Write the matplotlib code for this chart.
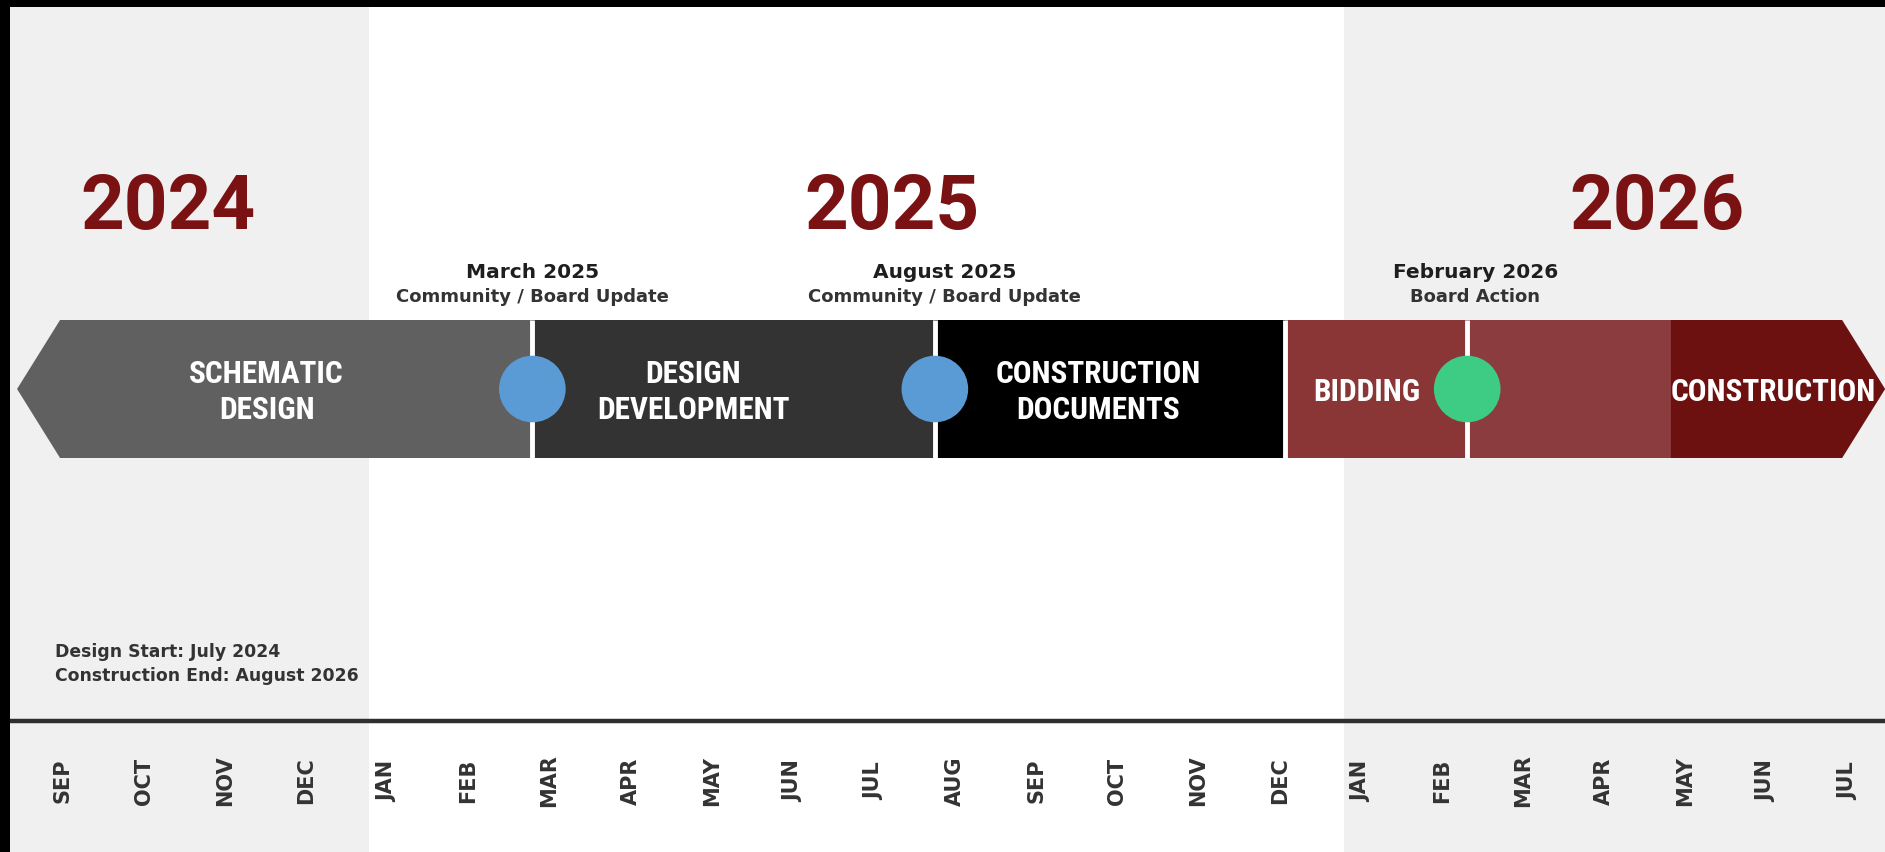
import matplotlib
matplotlib.use("Agg")
import matplotlib.pyplot as plt
from matplotlib.patches import Polygon, Rectangle
from matplotlib import font_manager as fm

# ---------------- data ----------------
months = ["SEP", "OCT", "NOV", "DEC", "JAN", "FEB", "MAR", "APR", "MAY", "JUN", "JUL",
          "AUG", "SEP", "OCT", "NOV", "DEC", "JAN", "FEB", "MAR", "APR", "MAY", "JUN", "JUL"]
years = ["2024", "2025", "2026"]
year_start = [-0.7, 3.78, 15.79]
year_end = [3.78, 15.79, 22.5]

phase_names = ["SCHEMATIC\nDESIGN", "DESIGN\nDEVELOPMENT", "CONSTRUCTION\nDOCUMENTS",
               "BIDDING", "", "CONSTRUCTION"]
phase_start = [-0.56, 5.79, 10.75, 15.07, 17.31, 19.82]
phase_end = [5.79, 10.75, 15.07, 17.31, 19.82, 22.46]

milestone_pos = [5.79, 10.75, 17.31]
milestone_title = ["March 2025", "August 2025", "February 2026"]
milestone_sub = ["Community / Board Update", "Community / Board Update", "Board Action"]

notes = ["Design Start: July 2024", "Construction End: August 2026"]

# ---------------- styles ----------------
phase_colors = ["#606060", "#333333", "#000000", "#8a3536", "#8b3c3e", "#6c1010"]
milestone_colors = ["#5b9bd5", "#5b9bd5", "#3ecb84"]
year_color = "#7a1214"
gray_bg = "#f0f0f0"

names = {f.name for f in fm.fontManager.ttflist}
stretch = "normal"
cond = "DejaVu Sans"
for cand in ["Roboto Condensed", "Liberation Sans Narrow", "Open Sans Condensed"]:
    if cand in names:
        cond = cand
        break
else:
    stretch = "condensed"
year_font = "Roboto" if "Roboto" in names else "DejaVu Sans"
wide = "DejaVu Sans"

W, H = 1885, 852
fig = plt.figure(figsize=(W / 100, H / 100), dpi=100, facecolor="black")
left_px, top_px = 10, 7
ax = fig.add_axes([left_px / W, 0, (W - left_px) / W, (H - top_px) / H])
px0, step = 62.5, 81.15
ax.set_xlim((left_px - px0) / step, (W - px0) / step)
ax.set_ylim(H, top_px)
ax.axis("off")
x0, x1 = ax.get_xlim()
ax.add_patch(Rectangle((x0, top_px), x1 - x0, H - top_px, color="white", zorder=0))

# year backgrounds
for i, (s, e) in enumerate(zip(year_start, year_end)):
    if i != 1:
        ax.axvspan(s, e, color=gray_bg, zorder=0.5, lw=0)

# year labels
year_label_x = [1.30, 10.22, 19.65]
for yx, yl in zip(year_label_x, years):
    ax.text(yx, 208, yl, ha="center", va="center", fontsize=55, fontweight="bold",
            color=year_color, family=year_font)

# arrow segments
top, bot = 320, 458
mid = (top + bot) / 2
head = 0.53
n = len(phase_names)
for i in range(n):
    s, e = phase_start[i], phase_end[i]
    if i == 0:
        pts = [(s, mid), (s + head, top), (e, top), (e, bot), (s + head, bot)]
    elif i == n - 1:
        pts = [(s, top), (e - head, top), (e, mid), (e - head, bot), (s, bot)]
    else:
        pts = [(s, top), (e, top), (e, bot), (s, bot)]
    ax.add_patch(Polygon(pts, closed=True, color=phase_colors[i], lw=0, zorder=2))

# white separators
for i in range(n - 2):
    ax.plot([phase_end[i], phase_end[i]], [top, bot], color="white", lw=3.5, zorder=3,
            solid_capstyle="butt")

# phase labels
label_offset = [-0.1, -0.5, -0.15, -0.12, 0, -0.06]
for i in range(n):
    if not phase_names[i]:
        continue
    cx = (phase_start[i] + phase_end[i]) / 2 + label_offset[i]
    ax.text(cx, mid + 3, phase_names[i], ha="center", va="center", fontsize=22.5,
            fontweight="bold", color="white", family=cond, fontstretch=stretch,
            linespacing=1.22, zorder=5)

# milestones
ax.scatter(milestone_pos, [mid] * len(milestone_pos), s=2300, c=milestone_colors,
           zorder=4, lw=0)
title_offset = [0, 0.12, 0.1]
for mp, t, st, off in zip(milestone_pos, milestone_title, milestone_sub, title_offset):
    ax.text(mp + off, 272, t, ha="center", va="center", fontsize=14.5, fontweight="bold",
            color="#1e1e1e", family=wide)
    ax.text(mp + off, 297, st, ha="center", va="center", fontsize=13, fontweight="bold",
            color="#333333", family=wide)

# notes
for j, nt in enumerate(notes):
    ax.text(-0.09, 652 + 24 * j, nt, ha="left", va="center", fontsize=12.4,
            fontweight="bold", color="#333333", family=wide)

# baseline
ax.plot([x0, x1], [721, 721], color="#2e2e2e", lw=3.2, zorder=3)

# months
for i, m in enumerate(months):
    ax.text(i, 781, m, ha="center", va="center", rotation=90, fontsize=15,
            fontweight="bold", color="#333333", family=wide)

fig.savefig("out.png", dpi=100, facecolor="black")
